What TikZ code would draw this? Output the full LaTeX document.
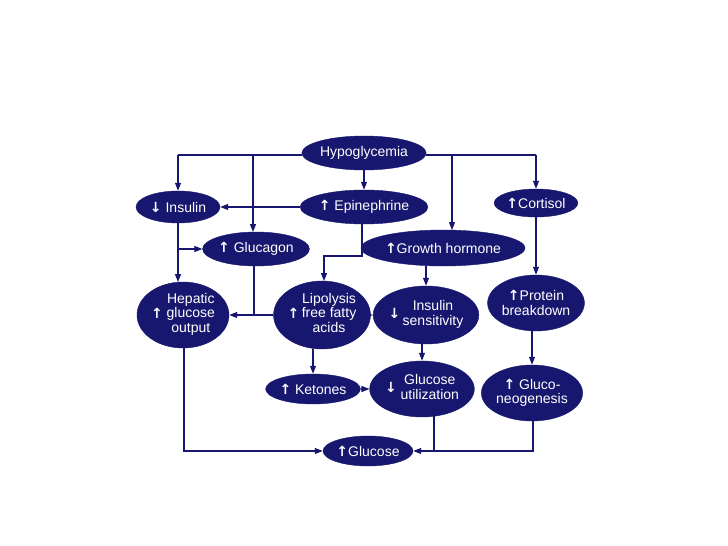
\documentclass[tikz,border=0pt]{standalone}
\usepackage{fontspec}
\setmainfont{Liberation Sans}
\newfontfamily\symf{DejaVu Sans Bold}
\usetikzlibrary{shapes.geometric,arrows.meta}
\definecolor{navy}{HTML}{17176F}
\newcommand{\up}{{\symf\char"2191}}
\newcommand{\dn}{{\symf\char"2193}}
\tikzset{
  ov/.style 2 args={ellipse,fill=navy,draw=navy,text=white,inner sep=0pt,minimum width=#1pt,minimum height=#2pt,font=\fontsize{14}{14.5}\selectfont,align=center},
  conn/.style={draw=navy,line width=1.1pt,-{Triangle[length=8pt,width=6pt]}},
  seg/.style={draw=navy,line width=1.1pt}
}
\begin{document}
\begin{tikzpicture}[x=1pt,y=-1pt]
\useasboundingbox[fill=white] (0,0) rectangle (728,546);
\node[ov={120}{34}] (hypo) at (364,153) {Hypoglycemia};
\node[ov={84}{32}] (ins) at (178,207) {\dn\ Insulin};
\node[ov={120}{34}] (epi) at (364,207) {\up\ Epinephrine};
\node[ov={82}{28}] (cort) at (536,203) {\up Cortisol};
\node[ov={100}{34}] (glucagon) at (256,249) {\up\ Glucagon};
\node[ov={144}{36}] (gh) at (443,248) {\up Growth hormone};
\node[ov={92}{66}] (hep) at (183,315) {\up\ \begin{tabular}{@{}c@{}}Hepatic\\glucose\\output\end{tabular}};
\node[ov={94}{68}] (lip) at (322,315) {\up\,\begin{tabular}{@{}c@{}}Lipolysis\\free fatty\\acids\end{tabular}};
\node[ov={94}{58}] (isens) at (426,315) {\dn\,\begin{tabular}{@{}c@{}}Insulin\\sensitivity\end{tabular}};
\node[ov={94}{56}] (prot) at (536,303) {\up Protein\\breakdown};
\node[ov={94}{30}] (ket) at (313,389) {\up\ Ketones};
\node[ov={96}{56}] (gutil) at (422,389) {\dn\ \begin{tabular}{@{}c@{}}Glucose\\utilization\end{tabular}};
\node[ov={96}{56}] (gneo) at (532,393) {\up\ Gluco-\\neogenesis};
\node[ov={90}{30}] (glc) at (368,451) {\up Glucose};
\coordinate (hl) at (178,155);
\coordinate (hr) at (536,155);
\draw[seg] (hypo.west |- hl) -- (hl);
\draw[conn] (hl) -- (ins.north);
\draw[conn] (253,155) -- (253,232);
\draw[seg] (hypo.east |- hr) -- (hr);
\draw[conn] (hr) -- (cort.north);
\draw[conn] (452,155) -- (452,230);
\draw[conn] (hypo.south) -- (epi.north);
\draw[conn] (epi.west) -- (ins.east);
\draw[conn] (362,224) -- (362,256) -- (324,256) -- (324,281);
\draw[conn] (ins.south) -- (178,282);
\draw[conn] (178,249) -- (glucagon.west);
\draw[seg] (254,266) -- (254,315);
\draw[conn] (lip.west) -- (hep.east);
\draw[conn] (lip.east) -- (isens.west);
\draw[conn] (426,266) -- (isens.north);
\draw[conn] (cort.south) -- (prot.north);
\draw[conn] (313,349) -- (ket.north);
\draw[conn] (ket.east) -- (gutil.west);
\draw[conn] (422,344) -- (gutil.north);
\draw[conn] (532,331) -- (gneo.north);
\draw[conn] (184,347) -- (184,451) -- (glc.west);
\draw[conn] (434,416) -- (434,451) -- (glc.east);
\draw[seg] (533,421) -- (533,451) -- (434,451);
\end{tikzpicture}
\end{document}
